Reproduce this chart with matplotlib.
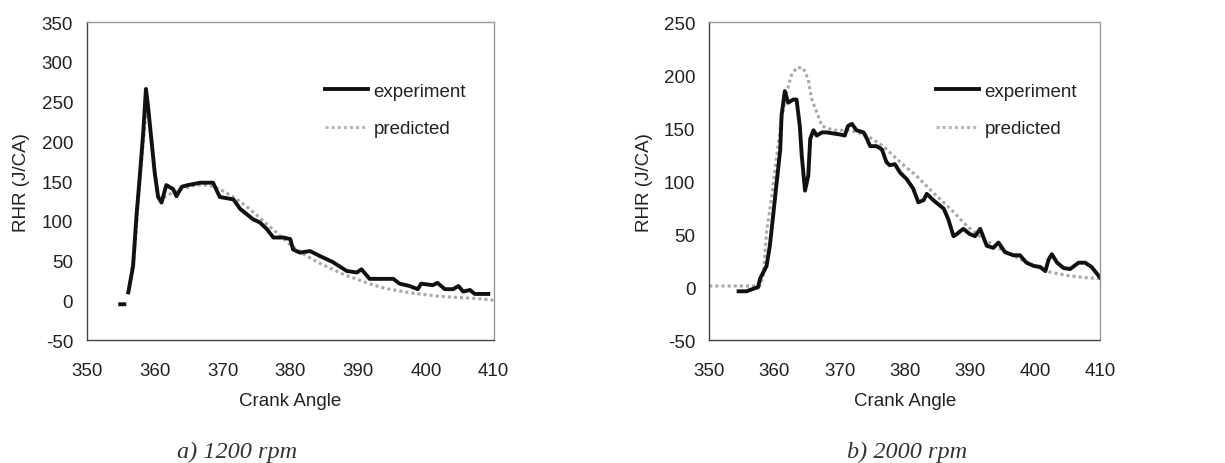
import matplotlib
matplotlib.use("Agg")
import matplotlib.pyplot as plt
from matplotlib.lines import Line2D

plt.rcParams['font.family'] = ['Liberation Sans', 'DejaVu Sans']
plt.rcParams['axes.unicode_minus'] = False

# --- a) 1200 rpm ---
exp_a_x = [354.9, 355.5, None, 356.1, 356.8, 357.3, 357.8, 358.3, 358.7, 359.0, 360.0, 360.5,
           361.0, 361.7, 362.7, 363.2, 364.0, 364.9, 366.7, 368.6, 369.6, 371.6, 372.6,
           374.5, 375.5, 376.5, 377.5, 379.0, 380.0, 380.4, 381.4, 382.9, 384.3, 386.3,
           388.3, 389.8, 390.5, 391.7, 392.7, 395.2, 396.1, 397.6, 398.8, 399.3, 401.0,
           401.7, 402.8, 404.0, 404.8, 405.5, 406.5, 407.2, 409.2]
exp_a_y = [-5, -5, None, 10, 43, 106, 157, 211, 266, 245, 160, 130,
           123, 145, 140, 131, 143, 145, 148, 148, 130, 127, 115,
           102, 98, 90, 79, 79, 77, 64, 60, 62, 56, 48,
           37, 35, 39, 27, 27, 27, 21, 18, 14, 21, 19,
           22, 14, 14, 18, 11, 13, 8, 8]
pred_a_x = [356.2, 357.0, 358.0, 358.8, 359.3, 359.8, 360.5, 361.5, 362.5, 364.0, 366.0,
            368.0, 370.0, 372.0, 374.0, 376.0, 378.0, 380.0, 382.0, 384.0, 386.0,
            388.0, 390.0, 392.0, 394.0, 396.0, 398.0, 400.0, 402.0, 404.0, 406.0,
            408.0, 410.0]
pred_a_y = [15, 60, 170, 245, 215, 177, 130, 130, 135, 140, 145,
            145, 138, 128, 115, 100, 85, 70, 58, 48, 40,
            32, 26, 20, 15, 12, 9, 7, 5, 4, 3, 2, 0]

# --- b) 2000 rpm ---
exp_b_x = [354.5, 355.7, 357.5, 357.8, 358.8, 359.3, 359.8, 360.3, 360.9, 361.1, 361.6,
           362.1, 362.9, 363.4, 363.9, 364.2, 364.7, 365.2, 365.5, 366.0, 366.5, 367.3,
           368.0, 370.1, 370.8, 371.3, 371.9, 372.6, 373.7, 374.2, 374.7, 375.7, 376.5,
           377.2, 377.7, 378.5, 379.3, 380.3, 381.3, 382.1, 382.9, 383.4, 384.4, 386.0,
           386.7, 387.5, 388.0, 389.0, 390.0, 390.8, 391.6, 392.6, 393.6, 394.4, 395.4,
           396.7, 397.7, 398.7, 399.8, 400.8, 401.6, 402.1, 402.6, 403.4, 404.4, 405.4,
           406.7, 407.7, 408.7, 410.0]
exp_b_y = [-4, -4, 0, 8, 20, 39, 67, 96, 130, 162, 185,
           174, 177, 177, 152, 124, 91, 105, 140, 148, 143, 146,
           146, 144, 143, 152, 154, 148, 146, 140, 133, 133, 130,
           118, 115, 116, 108, 102, 93, 80, 82, 88, 82, 74,
           64, 48, 50, 55, 50, 48, 55, 39, 37, 42, 33,
           30, 30, 23, 20, 19, 15, 26, 31, 23, 18, 17,
           23, 23, 19, 9]
pred_b_x = [350.0, 357.8, 358.3, 358.8, 359.6, 360.3, 361.1, 361.9, 362.6, 363.4, 364.4,
            365.2, 365.7, 366.5, 367.3, 369.0, 371.6, 374.2, 376.7, 379.3, 381.8,
            384.4, 387.0, 389.5, 392.1, 394.7, 397.2, 399.8, 402.4, 404.9, 407.4, 410.0]
pred_b_y = [1, 1, 11, 52, 86, 121, 159, 184, 200, 207, 207,
            196, 178, 165, 152, 148, 148, 143, 133, 118, 105,
            89, 74, 58, 45, 36, 28, 20, 14, 11, 9, 8]

x_ticks = [350, 360, 370, 380, 390, 400, 410]
panels = [
    dict(ex=exp_a_x, ey=exp_a_y, px=pred_a_x, py=pred_a_y, ylim=(-50, 350),
         yticks=range(-50, 351, 50), caption='a) 1200 rpm',
         rect=[0.071, 0.265, 0.332, 0.685], cap_x=237 / 1225, leg_x=0.955),
    dict(ex=exp_b_x, ey=exp_b_y, px=pred_b_x, py=pred_b_y, ylim=(-50, 250),
         yticks=range(-50, 251, 50), caption='b) 2000 rpm',
         rect=[0.579, 0.265, 0.319, 0.685], cap_x=907 / 1225, leg_x=0.965),
]

fig = plt.figure(figsize=(12.25, 4.64), dpi=100)

for p in panels:
    ax = fig.add_axes(p['rect'])
    ax.plot(p['px'], p['py'], color='#a8a8a8', lw=2.2, ls=(0, (1, 1)))
    ax.plot(p['ex'], p['ey'], color='#111111', lw=2.8)
    ax.set_xlim(350, 410)
    ax.set_ylim(*p['ylim'])
    ax.set_xticks(x_ticks)
    ax.set_yticks(list(p['yticks']))
    ax.tick_params(length=0, labelsize=13.5, colors='#222222')
    ax.tick_params(axis='x', pad=15.5)
    ax.tick_params(axis='y', pad=10)
    for side, sp in ax.spines.items():
        sp.set_linestyle((0, (2, 1)))
        sp.set_linewidth(1)
        sp.set_color('#444444' if side in ('left', 'bottom') else '#999999')
    ax.set_xlabel('Crank Angle', fontsize=13.5, labelpad=10, color='#222222')
    ax.set_ylabel('RHR (J/CA)', fontsize=13.5, labelpad=8, color='#222222')
    handles = [Line2D([], [], color='#111111', lw=2.8),
               Line2D([], [], color='#b8b8b8', lw=2.2, ls=(0, (1, 1)))]
    ax.legend(handles, ['experiment', 'predicted'], loc='upper right',
              bbox_to_anchor=(p['leg_x'], 0.84), frameon=False, fontsize=13.5,
              handlelength=2.3, handletextpad=0.3, labelspacing=1.1,
              borderpad=0, labelcolor='#222222')
    fig.text(p['cap_x'], 1 - 452 / 464, p['caption'], fontsize=17.5,
             family='Liberation Serif', style='italic', color='#333333',
             va='center', ha='center')

fig.savefig('out.png', dpi=100)
